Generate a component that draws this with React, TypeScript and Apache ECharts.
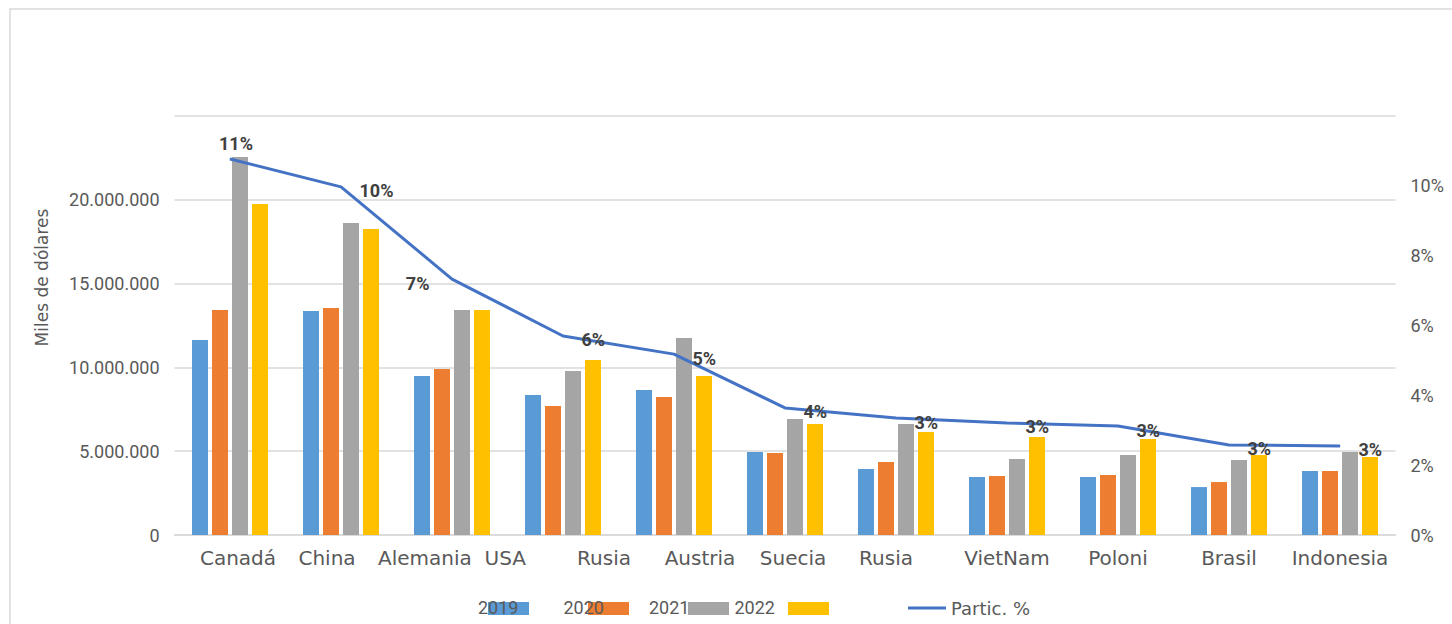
import React, { useEffect, useRef } from "react";
import * as echarts from "echarts";

const categories = ["Canadá", "China", "Alemania  USA", "Rusia", "Austria", "Suecia", "Rusia", "VietNam", "Poloni", "Brasil", "Indonesia"];
const years = ["2019", "2020", "2021", "2022"];
const v2019 = [11630000, 13370000, 9490000, 8350000, 8650000, 4950000, 3940000, 3460000, 3460000, 2860000, 3820000];
const v2020 = [13420000, 13540000, 9900000, 7700000, 8230000, 4890000, 4360000, 3520000, 3580000, 3160000, 3820000];
const v2021 = [22550000, 18620000, 13420000, 9790000, 11750000, 6920000, 6620000, 4530000, 4770000, 4470000, 4950000];
const v2022 = [19750000, 18260000, 13420000, 10440000, 9490000, 6620000, 6150000, 5850000, 5730000, 4770000, 4650000];
const partic = [10.77, 9.97, 7.33, 5.70, 5.18, 3.64, 3.35, 3.21, 3.12, 2.58, 2.55];
const lineName = "Partic. %";
const leftTicks = { min: 0, max: 25000000, interval: 5000000 };
const rightTicks = { min: 0, max: 12, interval: 2 };

// layout only: horizontal nudges of category labels (px)
const labelShift = [8, -14, 0, 41, 26, 8, -10, 0, 0, 0, 0];

const barColors = ["#5B9BD5", "#ED7D31", "#A5A5A5", "#FFC000"];
const grey = "#595959";

function dots(v: number) {
  return String(v).replace(/\B(?=(\d{3})+(?!\d))/g, ".");
}

export default function App() {
  const ref = useRef<HTMLDivElement>(null);
  useEffect(() => {
    if (!ref.current) return;
    const chart = echarts.init(ref.current, null, { renderer: "svg" });
    const barData = [v2019, v2020, v2021, v2022];
    const option: any = {
      animation: false,
      backgroundColor: "#ffffff",
      graphic: [
        {
          type: "rect",
          shape: { x: 10, y: 9, width: 1480, height: 660 },
          style: { fill: "none", stroke: "#d9d9d9", lineWidth: 1.5 },
          z: -10,
          silent: true,
        },
      ],
      grid: { left: 174.5, right: 56.5, top: 116, bottom: 89, containLabel: false },
      legend: [
        {
          data: years,
          left: 483,
          top: 597,
          itemWidth: 41,
          itemHeight: 13,
          itemGap: 59,
          icon: "rect",
          formatter: () => "",
          textStyle: { fontSize: 1 },
          selectedMode: false,
        },
        {
          data: years,
          left: 468,
          top: 593,
          itemWidth: 0,
          itemHeight: 13,
          itemGap: 40,
          icon: "rect",
          itemStyle: { opacity: 0 },
          textStyle: { fontFamily: "Roboto", fontSize: 18, color: grey },
          selectedMode: false,
          z: 5,
        },
        {
          data: [lineName],
          left: 903,
          top: 594,
          itemWidth: 38,
          itemHeight: 3,
          icon: "rect",
          textStyle: { fontFamily: "DejaVu Sans", fontSize: 18, color: grey },
          selectedMode: false,
        },
      ],
      xAxis: {
        type: "category",
        data: categories.map((c, i) => {
          const s = labelShift[i];
          return {
            value: c,
            textStyle: { padding: s >= 0 ? [0, 0, 0, 2 * s] : [0, -2 * s, 0, 0] },
          };
        }),
        axisTick: { show: false },
        axisLine: { lineStyle: { color: "#d9d9d9", width: 1.5 } },
        axisLabel: {
          fontFamily: "DejaVu Sans",
          fontSize: 20,
          color: grey,
          margin: 13,
          interval: 0,
        },
      },
      yAxis: [
        {
          type: "value",
          ...leftTicks,
          name: "Miles de dólares",
          nameLocation: "middle",
          nameGap: 124,
          nameTextStyle: { fontFamily: "DejaVu Sans", fontSize: 17, color: grey, padding: [0, 0, 0, 96] },
          axisLabel: {
            fontFamily: "Roboto",
            fontSize: 18,
            color: grey,
            margin: 15,
            showMaxLabel: false,
            formatter: (v: number) => dots(v),
          },
          axisLine: { show: false },
          axisTick: { show: false },
          splitLine: { lineStyle: { color: "#d9d9d9", width: 1.5 } },
        },
        {
          type: "value",
          ...rightTicks,
          position: "right",
          axisLabel: {
            fontFamily: "Roboto",
            fontSize: 18,
            color: grey,
            margin: 15,
            showMaxLabel: false,
            formatter: (v: number) => `${v}%`,
          },
          axisLine: { show: false },
          axisTick: { show: false },
          splitLine: { show: false },
        },
      ],
      series: [
        ...years.map((y, k) => ({
          name: y,
          type: "bar",
          data: barData[k],
          barWidth: 16,
          barGap: "25%",
          itemStyle: { color: barColors[k] },
        })),
        {
          name: lineName,
          type: "line",
          yAxisIndex: 1,
          data: partic.map((v, i) => {
            if (i === 0) return { value: v, label: { position: "top", distance: 6, offset: [6, 0] } };
            if (i === 2) return { value: v, label: { position: "left", distance: 22, offset: [0, 4] } };
            return v;
          }),
          symbol: "circle",
          symbolSize: 1,
          itemStyle: { color: "#4472C4" },
          lineStyle: { color: "#4472C4", width: 3 },
          z: 5,
          label: {
            show: true,
            position: "right",
            distance: 18,
            offset: [0, 4],
            fontFamily: "Roboto",
            fontWeight: "bold",
            fontSize: 18,
            color: "#404040",
            formatter: (p: any) => `${Math.round(p.value)}%`,
          },
        },
      ],
    };
    chart.setOption(option);
    return () => chart.dispose();
  }, []);
  return <div ref={ref} style={{ position: "absolute", left: 0, top: 0, width: 1452, height: 624 }} />;
}
